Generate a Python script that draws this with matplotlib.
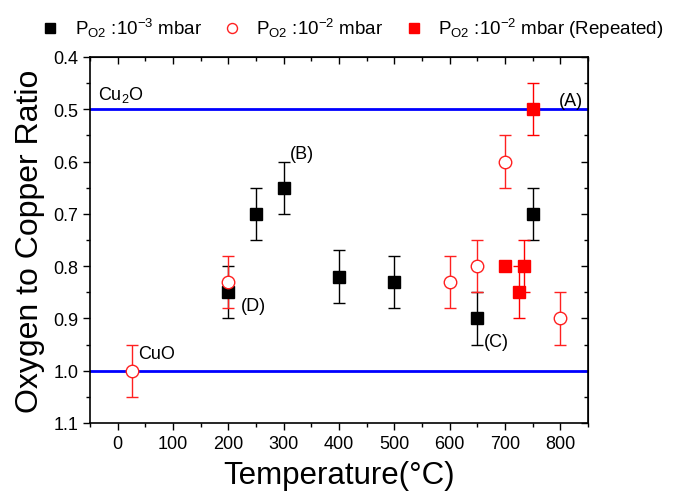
import numpy as np
import matplotlib
matplotlib.use("Agg")
import matplotlib.pyplot as plt
from matplotlib.ticker import MultipleLocator

plt.rcParams['font.family'] = ['Liberation Sans', 'DejaVu Sans']
plt.rcParams['mathtext.fontset'] = 'custom'
plt.rcParams['mathtext.rm'] = 'Liberation Sans'
plt.rcParams['mathtext.it'] = 'Liberation Sans:italic'

# P_O2 = 1e-3 mbar (black squares)
t_low = [200, 250, 300, 400, 500, 650, 750]
r_low = [0.85, 0.70, 0.65, 0.82, 0.83, 0.90, 0.70]
e_low = [0.05, 0.05, 0.05, 0.05, 0.05, 0.05, 0.05]

# P_O2 = 1e-2 mbar (open red circles)
t_high = [25, 200, 600, 650, 700, 800]
r_high = [1.00, 0.83, 0.83, 0.80, 0.60, 0.90]
e_high = [0.05, 0.05, 0.05, 0.05, 0.05, 0.05]

# P_O2 = 1e-2 mbar repeated (filled red squares)
t_rep = [700, 725, 735, 750]
r_rep = [0.80, 0.85, 0.80, 0.50]
e_rep = [0.0, 0.05, 0.05, 0.05]

ref_levels = [0.5, 1.0]

fig = plt.figure(figsize=(6.84, 5.02), dpi=100)
ax = fig.add_axes([90/684, 1-424/502, 498/684, 366/502])

for y in ref_levels:
    ax.axhline(y, color='#0000ff', lw=2.0, zorder=1)

ax.errorbar(t_low, r_low, yerr=e_low, fmt='none', ecolor='black', elinewidth=1, capsize=4, capthick=1, zorder=2)
ax.errorbar(t_high, r_high, yerr=e_high, fmt='none', ecolor='#ff2020', elinewidth=1, capsize=4, capthick=1, zorder=2)
ax.errorbar(t_rep, r_rep, yerr=e_rep, fmt='none', ecolor='#ff0000', elinewidth=1, capsize=4, capthick=1, zorder=2)

ax.plot(t_low, r_low, 's', color='black', ms=9, ls='none', zorder=3,
        label=r'P$_{\mathrm{O2}}$ :10$^{\mathrm{-3}}$ mbar')
ax.plot(t_high, r_high, 'o', mfc='white', mec='#ff2020', mew=1, ms=9, ls='none', zorder=3,
        label=r'P$_{\mathrm{O2}}$ :10$^{\mathrm{-2}}$ mbar')
ax.plot(t_rep, r_rep, 's', color='#ff0000', ms=9, ls='none', zorder=3,
        label=r'P$_{\mathrm{O2}}$ :10$^{\mathrm{-2}}$ mbar (Repeated)')

ax.set_xlim(-50, 850)
ax.set_ylim(1.1, 0.4)
ax.xaxis.set_major_locator(MultipleLocator(100))
ax.xaxis.set_minor_locator(MultipleLocator(50))
ax.yaxis.set_major_locator(MultipleLocator(0.1))
ax.yaxis.set_minor_locator(MultipleLocator(0.05))
ax.yaxis.set_major_formatter(matplotlib.ticker.FormatStrFormatter('%.1f'))
ax.tick_params(which='both', direction='out', width=1, labelsize=13)
ax.tick_params(which='major', length=5)
ax.tick_params(which='minor', length=3)

# mirrored ticks pointing inwards on top and right
top = ax.secondary_xaxis('top')
top.xaxis.set_major_locator(MultipleLocator(100))
top.xaxis.set_minor_locator(MultipleLocator(50))
top.tick_params(which='both', direction='in', labeltop=False, width=1)
top.tick_params(which='major', length=5)
top.tick_params(which='minor', length=3)
right = ax.secondary_yaxis('right')
right.yaxis.set_major_locator(MultipleLocator(0.1))
right.yaxis.set_minor_locator(MultipleLocator(0.05))
right.tick_params(which='both', direction='in', labelright=False, width=1)
right.tick_params(which='major', length=5)
right.tick_params(which='minor', length=3)

for s in ax.spines.values():
    s.set_linewidth(1.2)

ax.set_xlabel('Temperature(°C)', fontsize=22.5, labelpad=6)
ax.set_ylabel('Oxygen to Copper Ratio', fontsize=23, labelpad=6)

ax.text(-36, 0.47, r'Cu$_2$O', fontsize=13, va='center', ha='left')
ax.text(37, 0.968, 'CuO', fontsize=13, va='center', ha='left')
ax.text(798, 0.483, '(A)', fontsize=13, va='center', ha='left')
ax.text(311, 0.585, '(B)', fontsize=13, va='center', ha='left')
ax.text(662, 0.944, '(C)', fontsize=13, va='center', ha='left')
ax.text(222, 0.876, '(D)', fontsize=13, va='center', ha='left')

fig.legend(loc='center', bbox_to_anchor=(0.515, 0.942), ncol=3, frameon=False,
           fontsize=13.5, markerscale=0.8, handlelength=1.0, handletextpad=0.8,
           columnspacing=1.1)

fig.savefig('out.png', dpi=100)
